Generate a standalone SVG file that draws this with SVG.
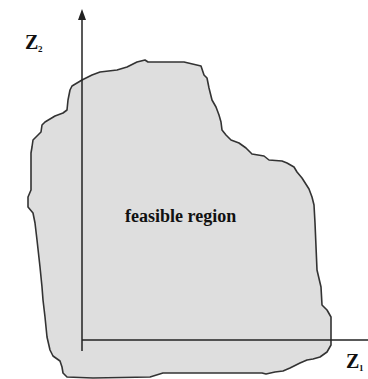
<svg xmlns="http://www.w3.org/2000/svg" width="368" height="379" viewBox="0 0 368 379">
<style>
.region{fill:#dedede;stroke:#333;stroke-width:1.6;stroke-linejoin:round}
.axis{stroke:#222;stroke-width:1.5;fill:none}
.lbl{font-family:"Liberation Serif","Times New Roman",serif;font-weight:bold;fill:#111}
</style>
<rect width="368" height="379" fill="#fff"/>
<g id="feasible-region">
<path class="region" d="M82,80 L92,75 L100,72 L117,70 L127,67 L137,62 L145,60 L148,62 L184,62 L201,66 L204,75 L207,78 L209,88 L212,100 L216,107 L219,115 L221,122 L222,130 L226,135 L231,140 L239,143 L246,148 L252,154 L264,156 L269,160 L282,161 L287,163 L294,167 L297,172 L302,178 L309,189 L312,197 L314,205 L315,223 L317,270 L321,287 L322,305 L327,310 L331,317 L331,333 L331,345 L327,352 L320,357 L313,359 L307,360 L300,363 L290,368 L283,371 L275,372 L266,374 L262,373 L180,373 L163,373 L150,377 L93,378 L67,377 L63,373 L62,367 L60,361 L53,356 L50,350 L47,337 L45,317 L43,300 L42,287 L40,267 L37,240 L35,223 L33,213 L28,207 L28,197 L31,190 L31,153 L32,147 L33,140 L37,136 L41,132 L42,125 L45,122 L55,116 L63,113 L67,110 L68,100 L70,90 L72,86 Z"/>
<text class="lbl" x="125" y="222" font-size="18">feasible region</text>
</g>
<g id="connectors">
<line class="axis" x1="82" y1="19" x2="82" y2="351"/>
<polygon points="82,9 78,20 86,20" fill="#222"/>
<line class="axis" x1="82" y1="340" x2="368" y2="340"/>
</g>
<g id="label-z2">
<text class="lbl" x="25" y="49" font-size="20">Z</text>
<text class="lbl" x="38" y="52" font-size="9">2</text>
</g>
<g id="label-z1">
<text class="lbl" x="346" y="368" font-size="20">Z</text>
<text class="lbl" x="359" y="371" font-size="9">1</text>
</g>
</svg>
